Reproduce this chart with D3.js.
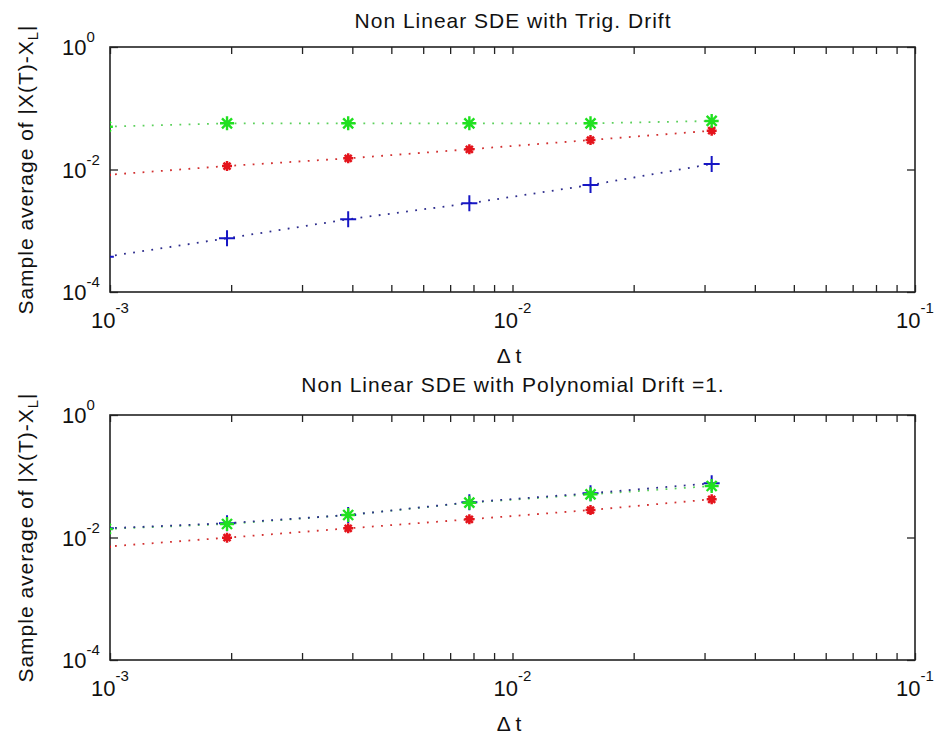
<!DOCTYPE html>
<html>
<head>
<meta charset="utf-8">
<script src="https://cdn.jsdelivr.net/npm/d3@7"></script>
<style>
  body { margin: 0; background: #fff; }
  text { font-family: "Liberation Sans", Arial, sans-serif; fill: #111; }
</style>
</head>
<body>
<div id="graph"></div>
<script>
// ------DATA------
// time steps (2^-10 ... 2^-5), first one sits just left of the axis and is clipped
const dt = [0.0009765625, 0.001953125, 0.00390625, 0.0078125, 0.015625, 0.03125]

// top panel: trig drift
const trigBlue  = [0.000377, 0.000753, 0.00154, 0.00281, 0.00558, 0.0123]
const trigRed   = [0.00813, 0.0114, 0.0152, 0.0214, 0.0303, 0.0430]
const trigGreen = [0.050, 0.0568, 0.0568, 0.0568, 0.0568, 0.062]

// bottom panel: polynomial drift
const polyBlue  = [0.0141, 0.0171, 0.0233, 0.0376, 0.0527, 0.0767]
const polyRed   = [0.00708, 0.00993, 0.0141, 0.0198, 0.0281, 0.0421]
const polyGreen = [0.0138, 0.0166, 0.0233, 0.0370, 0.0507, 0.0693]

// tick values and the exponents written as labels
const xTickValues = [1e-3, 1e-2, 1e-1]
const xTickExp = ["-3", "-2", "-1"]
const yTickValues = [1e-4, 1e-2, 1e0]
const yTickExp = ["-4", "-2", "0"]

const titles = ["Non Linear SDE with Trig. Drift", "Non Linear SDE with Polynomial Drift =1."]

// ------LAYOUT------
const width = 935, height = 736
const left = 110, right = 915
const panels = [
  { top: 47, bottom: 292, titleY: 28, title: titles[0],
    series: [{ y: trigRed, kind: "red" }, { y: trigGreen, kind: "green" }, { y: trigBlue, kind: "blue" }] },
  { top: 415, bottom: 660, titleY: 392, title: titles[1],
    series: [{ y: polyRed, kind: "red" }, { y: polyGreen, kind: "green" }, { y: polyBlue, kind: "blue" }] }
]
// markers: green stars sit on top of the blue crosses
const markerOrder = ["red", "blue", "green"]

// marker shapes and colours for each series
const styles = {
  blue:  { line: "#2c2c8c", mark: "#1616c4", path: "M-8,0H8M0,-8V8", sw: 2 },
  red:   { line: "#d23030", mark: "#e4141c", path: "M-5,0H5M0,-5V5M-3.5,-3.5L3.5,3.5M-3.5,3.5L3.5,-3.5", sw: 2.5, dot: 2.8 },
  green: { line: "#5cd05c", mark: "#20e020", path: "M-7,0H7M0,-7V7M-5,-5L5,5M-5,5L5,-5", sw: 2.4 }
}

const svg = d3.select('#graph')
  .append("svg")
    .attr("width", width)
    .attr("height", height)

panels.forEach((p, i) => drawPanel(p, i))

function drawPanel(p, i){
  const x = d3.scaleLog().domain([1e-3, 1e-1]).range([left, right])
  const y = d3.scaleLog().domain([1e-4, 1e0]).range([p.bottom, p.top])

  // clip region = axes box
  svg.append("clipPath").attr("id", "clip" + i)
    .append("rect")
      .attr("x", left).attr("y", p.top)
      .attr("width", right - left).attr("height", p.bottom - p.top)

  // minor + major ticks along x (inward, bottom and top)
  const xTicks = x.ticks()
  svg.append("g").attr("transform", `translate(0, ${p.bottom})`)
    .call(d3.axisBottom(x).tickValues(xTicks).tickSize(-7).tickFormat(""))
  svg.append("g").attr("transform", `translate(0, ${p.top})`)
    .call(d3.axisTop(x).tickValues(xTicks).tickSize(-7).tickFormat(""))
  // y ticks only at the labelled decades, left and right
  svg.append("g").attr("transform", `translate(${left}, 0)`)
    .call(d3.axisLeft(y).tickValues(yTickValues).tickSize(-8).tickFormat(""))
  svg.append("g").attr("transform", `translate(${right}, 0)`)
    .call(d3.axisRight(y).tickValues(yTickValues).tickSize(-8).tickFormat(""))
  svg.selectAll(".domain").remove()
  svg.selectAll(".tick line").attr("stroke", "#222").attr("stroke-width", 1.3)

  // box
  svg.append("rect")
    .attr("x", left).attr("y", p.top)
    .attr("width", right - left).attr("height", p.bottom - p.top)
    .attr("fill", "none").attr("stroke", "#222").attr("stroke-width", 1.6)

  // x tick labels 10^n
  xTickValues.forEach((v, k) => {
    const t = svg.append("text")
      .attr("x", x(v)).attr("y", p.bottom + 36)
      .attr("text-anchor", "middle")
      .style("font-size", "22px")
    t.append("tspan").text("10")
    t.append("tspan").attr("dy", -15).style("font-size", "15px").text(xTickExp[k])
  })

  // y tick labels 10^n
  yTickValues.forEach((v, k) => {
    const t = svg.append("text")
      .attr("x", 62).attr("y", y(v) + 8)
      .style("font-size", "22px")
    t.append("tspan").text("10")
    t.append("tspan").attr("dy", -13).style("font-size", "15px").text(yTickExp[k])
  })

  // title
  svg.append("text")
    .attr("x", 513).attr("y", p.titleY)
    .attr("text-anchor", "middle")
    .style("font-size", "21px")
    .style("letter-spacing", "1px")
    .text(p.title)

  // x label
  svg.append("text")
    .attr("x", 509).attr("y", p.bottom + 71)
    .attr("text-anchor", "middle")
    .style("font-size", "21px")
    .text("\u0394 t")

  // y label, with subscript L
  const yl = svg.append("text")
    .attr("transform", `translate(33, ${(p.top + p.bottom) / 2}) rotate(-90)`)
    .attr("text-anchor", "middle")
    .style("font-size", "21px")
    .style("letter-spacing", "1px")
  yl.append("tspan").text("Sample average of |X(T)-X")
  yl.append("tspan").attr("dy", 5).style("font-size", "15px").text("L")
  yl.append("tspan").attr("dy", -5).text("|")

  const plot = svg.append("g").attr("clip-path", `url(#clip${i})`)
  const line = d3.line().x((d, j) => x(dt[j])).y(d => y(d))

  // dotted lines
  p.series.forEach(s => {
    const st = styles[s.kind]
    plot.append("path")
      .datum(s.y)
      .attr("d", line)
      .attr("fill", "none")
      .attr("stroke", st.line)
      .attr("stroke-width", 1.8)
      .attr("stroke-dasharray", "1.8 7.4")
  })

  // markers
  markerOrder.forEach(kind => {
    const s = p.series.find(d => d.kind == kind)
    const st = styles[kind]
    const g = plot.selectAll(null).data(s.y).enter()
      .append("g")
        .attr("transform", (d, j) => `translate(${x(dt[j])}, ${y(d)})`)
    if (st.dot) g.append("circle").attr("r", st.dot).attr("fill", st.mark)
    g.append("path")
      .attr("d", st.path)
      .attr("fill", "none")
      .attr("stroke", st.mark)
      .attr("stroke-width", st.sw)
  })
}
</script>
</body>
</html>
